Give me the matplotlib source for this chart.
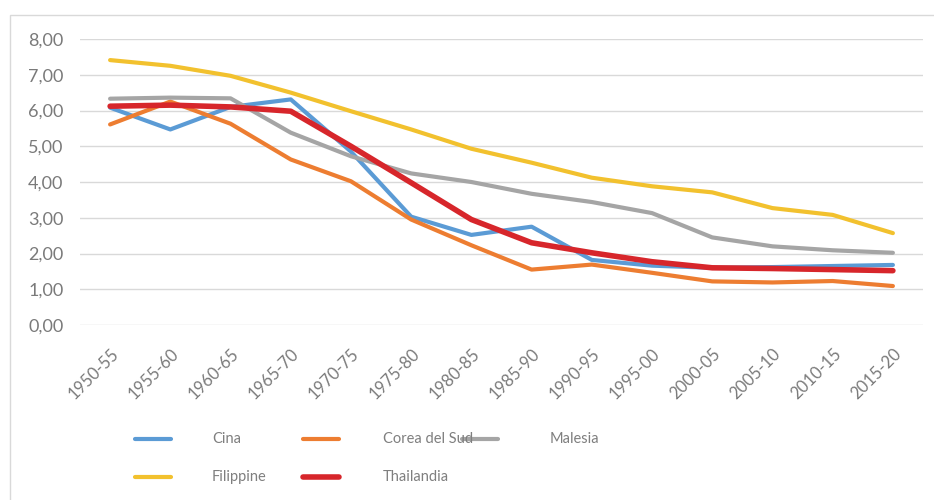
import matplotlib
matplotlib.use("Agg")
import matplotlib.pyplot as plt
from matplotlib.lines import Line2D
from matplotlib.patches import Rectangle
from matplotlib.ticker import FuncFormatter

periods = ["1950-55", "1955-60", "1960-65", "1965-70", "1970-75", "1975-80", "1980-85",
           "1985-90", "1990-95", "1995-00", "2000-05", "2005-10", "2010-15", "2015-20"]

cina = [6.08, 5.47, 6.10, 6.31, 4.85, 3.03, 2.52, 2.75, 1.82, 1.66, 1.60, 1.62, 1.65, 1.68]
corea = [5.61, 6.25, 5.63, 4.63, 4.02, 2.95, 2.23, 1.55, 1.69, 1.46, 1.22, 1.19, 1.23, 1.09]
malesia = [6.33, 6.36, 6.34, 5.38, 4.72, 4.24, 4.00, 3.67, 3.44, 3.13, 2.45, 2.20, 2.09, 2.02]
filippine = [7.41, 7.25, 6.97, 6.50, 5.98, 5.47, 4.93, 4.54, 4.12, 3.88, 3.71, 3.27, 3.08, 2.57]
thailandia = [6.12, 6.15, 6.10, 5.98, 5.00, 3.98, 2.95, 2.30, 2.02, 1.77, 1.60, 1.58, 1.55, 1.52]

series = [
    ("Cina", cina, "#5B9BD5", 3.0),
    ("Corea del Sud", corea, "#ED7D31", 3.0),
    ("Malesia", malesia, "#A5A5A5", 3.0),
    ("Filippine", filippine, "#F2C12E", 3.0),
    ("Thailandia", thailandia, "#D7262B", 4.0),
]

W, H = 934, 500
fig = plt.figure(figsize=(W / 100, H / 100), dpi=100)
plt.rcParams['font.family'] = ['Lato', 'DejaVu Sans']

# outer chart frame
fig.add_artist(Rectangle((10 / W, -0.1), 1.2, 1 - 15 / H + 0.1, transform=fig.transFigure,
                         fill=False, edgecolor="#D9D9D9", lw=1))

ax = fig.add_axes([80 / W, 1 - 325 / H, (923 - 80) / W, (325 - 39) / H])
x = list(range(len(periods)))
for name, vals, col, lw in series:
    ax.plot(x, vals, color=col, lw=lw, solid_capstyle="round", solid_joinstyle="round", zorder=3)

ax.set_xlim(-0.5, len(periods) - 0.5)
ax.set_ylim(0, 8)
ax.set_yticks(range(0, 9))
ax.yaxis.set_major_formatter(FuncFormatter(lambda v, p: f"{v:.2f}".replace(".", ",")))
ax.grid(axis="y", color="#D9D9D9", lw=1)
ax.set_axisbelow(True)
for s in ax.spines.values():
    s.set_visible(False)
ax.tick_params(axis="both", length=0, colors="#7A7A7A")
ax.tick_params(axis="y", pad=12, labelsize=13)
ax.set_xticks(x)
ax.set_xticklabels(periods, rotation=45, ha="right", rotation_mode="anchor")
ax.tick_params(axis="x", pad=15, labelsize=12)

# legend (manual layout, two rows)
legend_items = [
    ("Cina", "#5B9BD5", 3.0, 135, 212, 439),
    ("Corea del Sud", "#ED7D31", 3.0, 303, 383, 439),
    ("Malesia", "#A5A5A5", 3.0, 462, 550, 439),
    ("Filippine", "#F2C12E", 3.0, 135, 212, 477),
    ("Thailandia", "#D7262B", 4.0, 303, 383, 477),
]
for name, col, lw, hx, tx, y in legend_items:
    fig.add_artist(Line2D([hx / W, (hx + 36) / W], [1 - y / H, 1 - y / H], transform=fig.transFigure,
                          color=col, lw=lw, solid_capstyle="round"))
    fig.text(tx / W, 1 - y / H, name, ha="left", va="center", color="#7F7F7F", fontsize=10.5)

fig.savefig("out.png", dpi=100)
